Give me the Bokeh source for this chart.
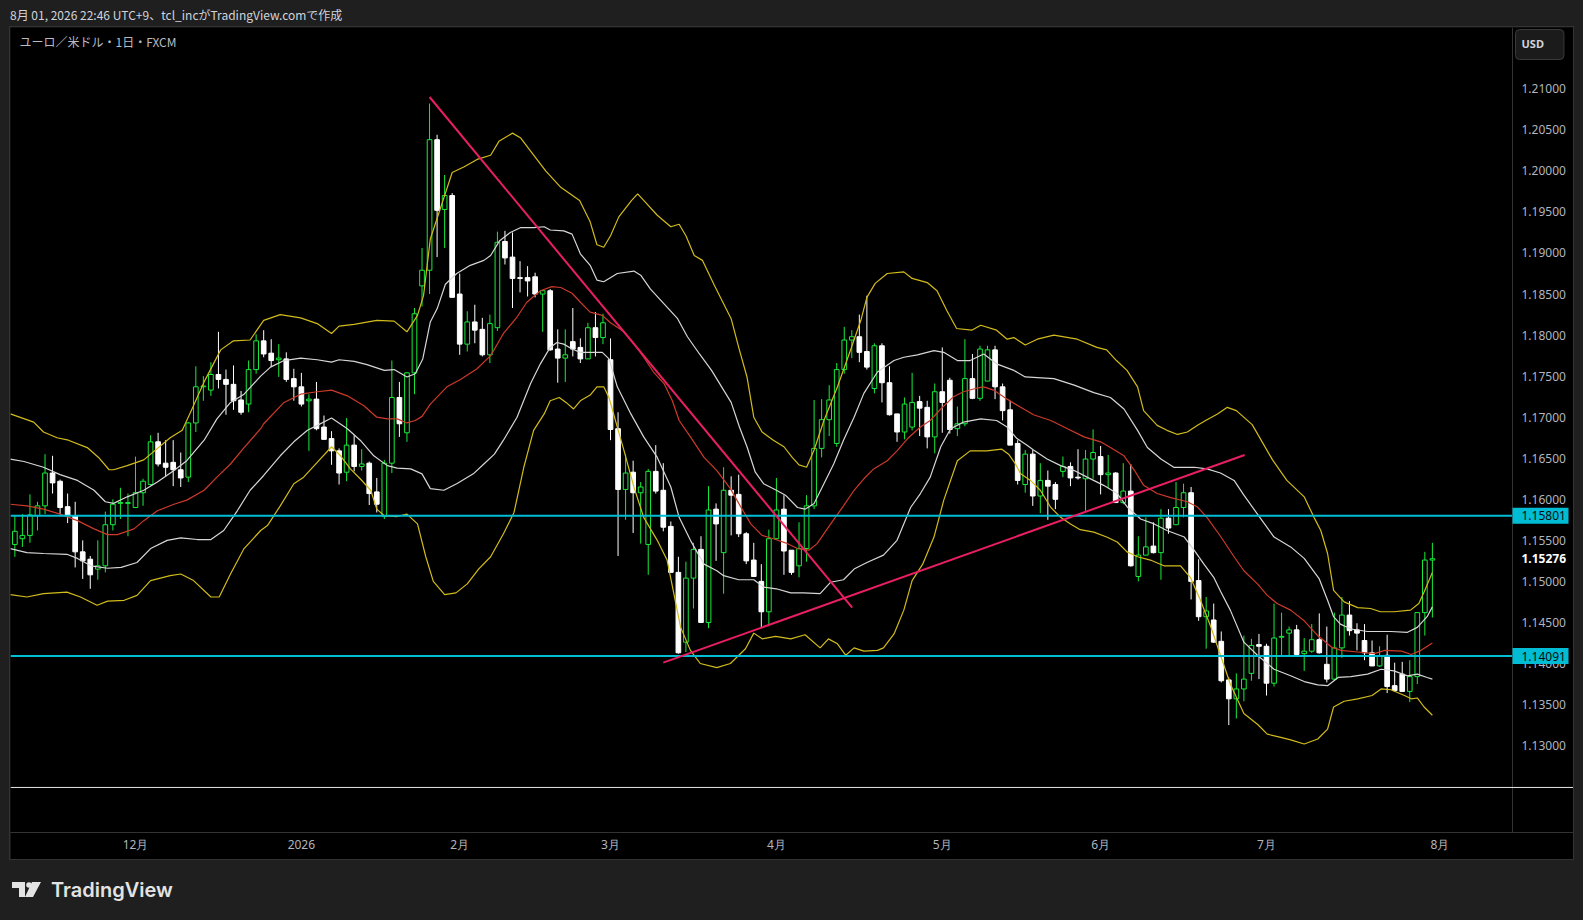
from bokeh.plotting import figure
from bokeh.models import (Range1d, FixedTicker, PrintfTickFormatter, Span, Label, Div, ColumnDataSource)
from bokeh.layouts import column
from bokeh.embed import file_html
from bokeh.resources import INLINE
from bokeh.core.properties import value

# ---------------- data (bar index 0 = 2025-12-01) ----------------
first_bar = -16
opens = [1.1545,1.1552,1.1556,1.1580,1.1592,1.1632,1.1622,1.1591,1.1580,1.1536,1.1527,1.1515,1.1519,1.1569,1.1595,1.1595,
 1.1590,1.1608,1.1618,1.1670,1.1644,1.1645,1.1636,1.1627,1.1693,1.1737,1.1733,1.1752,1.1746,1.1740,1.1721,1.1716,
 1.1758,1.1793,1.1778,1.1770,1.1771,1.1747,1.1737,1.1720,1.1722,1.1688,1.1674,1.1659,1.1633,1.1666,1.1640,1.1644,
 1.1609,1.1579,1.1644,1.1724,1.1681,1.1754,1.1860,1.1879,1.2038,1.1953,1.1970,1.1850,1.1789,1.1816,1.1807,1.1776,
 1.1809,1.1914,1.1895,1.1870,1.1870,1.1871,1.1850,1.1854,1.1783,1.1772,1.1792,1.1785,1.1771,1.1809,1.1797,1.1770,
 1.1686,1.1612,1.1633,1.1608,1.1545,1.1634,1.1611,1.1567,1.1511,1.1426,1.1504,1.1539,1.1450,1.1588,1.1535,1.1611,
 1.1606,1.1558,1.1526,1.1500,1.1463,1.1552,1.1588,1.1538,1.1519,1.1540,1.1592,1.1662,1.1697,1.1668,1.1758,1.1794,
 1.1798,1.1780,1.1735,1.1787,1.1742,1.1704,1.1682,1.1688,1.1719,1.1712,1.1676,1.1731,1.1745,1.1686,1.1692,1.1747,
 1.1723,1.1744,1.1782,1.1737,1.1709,1.1668,1.1618,1.1655,1.1604,1.1623,1.1618,1.1634,1.1640,1.1627,1.1625,1.1649,
 1.1652,1.1630,1.1632,1.1596,1.1610,1.1506,1.1532,1.1543,1.1535,1.1577,1.1569,1.1590,1.1608,1.1501,1.1457,1.1453,
 1.1427,1.1380,1.1357,1.1369,1.1388,1.1423,1.1421,1.1376,1.1432,1.1437,1.1441,1.1412,1.1415,1.1429,1.1399,1.1381,
 1.1419,1.1459,1.1441,1.1428,1.1413,1.1397,1.1410,1.1373,1.1387,1.1366,1.1384,1.1462,1.1526]
highs = [1.1580,1.1582,1.1606,1.1597,1.1655,1.1653,1.1624,1.1607,1.1597,1.1550,1.1531,1.1550,1.1585,1.1600,1.1614,1.1607,
 1.1652,1.1625,1.1678,1.1681,1.1672,1.1672,1.1657,1.1694,1.1762,1.1750,1.1767,1.1804,1.1758,1.1763,1.1732,1.1769,
 1.1801,1.1806,1.1795,1.1789,1.1779,1.1759,1.1754,1.1728,1.1743,1.1702,1.1683,1.1662,1.1699,1.1678,1.1661,1.1646,
 1.1626,1.1648,1.1769,1.1743,1.1755,1.1833,1.1906,1.2082,1.2044,1.1995,1.1973,1.1875,1.1829,1.1837,1.1821,1.1825,
 1.1926,1.1927,1.1925,1.1890,1.1884,1.1876,1.1855,1.1856,1.1807,1.1807,1.1833,1.1796,1.1815,1.1828,1.1826,1.1796,
 1.1706,1.1655,1.1647,1.1621,1.1637,1.1666,1.1644,1.1573,1.1530,1.1524,1.1547,1.1555,1.1616,1.1595,1.1639,1.1628,
 1.1630,1.1560,1.1547,1.1521,1.1563,1.1626,1.1605,1.1538,1.1572,1.1605,1.1721,1.1722,1.1739,1.1766,1.1810,1.1806,
 1.1825,1.1848,1.1790,1.1790,1.1762,1.1704,1.1724,1.1754,1.1726,1.1720,1.1741,1.1785,1.1748,1.1713,1.1795,1.1777,
 1.1787,1.1787,1.1787,1.1741,1.1720,1.1672,1.1660,1.1660,1.1644,1.1635,1.1621,1.1652,1.1645,1.1661,1.1660,1.1685,
 1.1665,1.1654,1.1633,1.1644,1.1643,1.1555,1.1578,1.1572,1.1588,1.1588,1.1621,1.1619,1.1615,1.1527,1.1481,1.1473,
 1.1439,1.1383,1.1388,1.1434,1.1430,1.1436,1.1424,1.1473,1.1462,1.1445,1.1447,1.1431,1.1448,1.1461,1.1445,1.1462,
 1.1481,1.1476,1.1449,1.1448,1.1428,1.1421,1.1435,1.1401,1.1402,1.1404,1.1462,1.1536,1.1547]
lows = [1.1530,1.1542,1.1547,1.1562,1.1582,1.1607,1.1582,1.1571,1.1517,1.1503,1.1491,1.1502,1.1511,1.1562,1.1576,1.1555,
 1.1590,1.1592,1.1617,1.1640,1.1628,1.1616,1.1615,1.1621,1.1682,1.1720,1.1726,1.1735,1.1703,1.1709,1.1703,1.1706,
 1.1753,1.1773,1.1761,1.1749,1.1743,1.1720,1.1713,1.1659,1.1684,1.1673,1.1642,1.1618,1.1622,1.1634,1.1635,1.1593,
 1.1584,1.1576,1.1632,1.1676,1.1670,1.1728,1.1835,1.1850,1.1895,1.1906,1.1846,1.1776,1.1780,1.1790,1.1774,1.1766,
 1.1805,1.1886,1.1833,1.1852,1.1847,1.1846,1.1804,1.1781,1.1742,1.1743,1.1774,1.1766,1.1771,1.1774,1.1789,1.1672,
 1.1531,1.1575,1.1559,1.1546,1.1508,1.1607,1.1561,1.1511,1.1412,1.1414,1.1467,1.1450,1.1443,1.1525,1.1485,1.1556,
 1.1554,1.1521,1.1506,1.1443,1.1447,1.1551,1.1508,1.1508,1.1505,1.1524,1.1588,1.1651,1.1677,1.1664,1.1753,1.1772,
 1.1767,1.1758,1.1729,1.1718,1.1702,1.1670,1.1673,1.1684,1.1677,1.1662,1.1656,1.1681,1.1680,1.1677,1.1689,1.1722,
 1.1720,1.1744,1.1722,1.1696,1.1666,1.1618,1.1608,1.1592,1.1583,1.1575,1.1588,1.1627,1.1616,1.1624,1.1586,1.1625,
 1.1606,1.1614,1.1596,1.1594,1.1518,1.1500,1.1532,1.1534,1.1502,1.1558,1.1569,1.1578,1.1478,1.1452,1.1418,1.1425,
 1.1377,1.1325,1.1333,1.1354,1.1379,1.1381,1.1361,1.1372,1.1408,1.1409,1.1408,1.1391,1.1413,1.1412,1.1377,1.1379,
 1.1407,1.1434,1.1416,1.1404,1.1397,1.1396,1.1364,1.1366,1.1366,1.1353,1.1375,1.1434,1.1456]
closes = [1.1561,1.1556,1.1581,1.1592,1.1632,1.1620,1.1590,1.1580,1.1536,1.1525,1.1508,1.1519,1.1569,1.1594,1.1596,1.1596,
 1.1608,1.1622,1.1670,1.1643,1.1639,1.1636,1.1626,1.1693,1.1737,1.1738,1.1752,1.1746,1.1740,1.1720,1.1706,1.1758,
 1.1793,1.1777,1.1769,1.1772,1.1746,1.1737,1.1716,1.1722,1.1686,1.1673,1.1659,1.1632,1.1666,1.1640,1.1643,1.1607,
 1.1594,1.1644,1.1724,1.1692,1.1754,1.1826,1.1879,1.2038,1.1952,1.1970,1.1846,1.1789,1.1816,1.1806,1.1776,1.1814,
 1.1913,1.1894,1.1869,1.1869,1.1866,1.1850,1.1854,1.1782,1.1772,1.1776,1.1783,1.1771,1.1809,1.1797,1.1815,1.1685,
 1.1612,1.1632,1.1608,1.1615,1.1634,1.1610,1.1566,1.1511,1.1413,1.1504,1.1539,1.1450,1.1587,1.1570,1.1611,1.1605,
 1.1558,1.1525,1.1506,1.1463,1.1552,1.1587,1.1537,1.1511,1.1540,1.1592,1.1662,1.1697,1.1721,1.1758,1.1794,1.1798,
 1.1779,1.1761,1.1787,1.1742,1.1703,1.1682,1.1716,1.1718,1.1711,1.1676,1.1731,1.1718,1.1685,1.1692,1.1747,1.1723,
 1.1783,1.1782,1.1737,1.1708,1.1666,1.1623,1.1655,1.1604,1.1623,1.1616,1.1600,1.1640,1.1626,1.1626,1.1649,1.1657,
 1.1630,1.1632,1.1596,1.1610,1.1519,1.1532,1.1542,1.1535,1.1577,1.1565,1.1590,1.1608,1.1500,1.1457,1.1464,1.1426,
 1.1379,1.1357,1.1369,1.1381,1.1422,1.1421,1.1376,1.1431,1.1433,1.1441,1.1411,1.1415,1.1429,1.1413,1.1381,1.1419,
 1.1459,1.1440,1.1437,1.1413,1.1397,1.1409,1.1372,1.1367,1.1366,1.1384,1.1462,1.1526,1.15276]

# Bollinger style bands (bar index, price)
upper2_x = [-16.6,-13.5,-12.2,-10.4,-8.9,-6.4,-4.9,-3.5,-2.9,-1.1,1.1,4.6,6.2,7.3,9.1,11.3,13.0,15.2,17.0,19.2,21.9,24.1,26.0,27.0,29.0,32.0,34.3,36.0,37.4,38.2,39.1,41.0,42.0,43.6,45.3,47.1,48.2,50.0,51.1,52.4,54.4,56.4,58.9,60.3,61.2,62.1,63.0,64.1,65.8,66.6,67.4,69.2,71.0,72.1,73.0,74.1,75.2,76.8,79.0,80.0,81.1,82.0,83.1,84.6,86.0,87.1,88.0,89.0,90.0,91.3,93.1,94.8,96.2,97.0,98.1,99.7,101.9,103.0,105.0,106.3,107.6,108.9,110.9,112.1,114.2,115.6,116.5,118.0,119.6,121.8,124.9,127.5,128.8,130.1,131.5,132.9,133.7,135.5,136.8,138.2,139.5,140.8,142.1,143.5,144.8,146.0,148.1,150.8,152.7,155.0,156.3,157.2,158.1,158.9,160.3,162.1,163.8,165.1,166.9,169.1,170.2,170.9,172.0]
upper2_y = [1.1704,1.1694,1.1682,1.1675,1.1672,1.1663,1.1651,1.1636,1.1636,1.1641,1.1648,1.1675,1.1684,1.1706,1.1743,1.1782,1.1793,1.1794,1.1818,1.1825,1.1821,1.1814,1.1802,1.1811,1.1813,1.1818,1.1817,1.1804,1.1824,1.1848,1.1917,1.1970,1.1998,1.2005,1.2014,1.2019,1.2036,1.2046,1.2040,1.2024,1.2000,1.1980,1.1964,1.1938,1.1910,1.1907,1.1921,1.1944,1.1964,1.1972,1.1964,1.1946,1.1932,1.1935,1.1921,1.1897,1.1891,1.1860,1.1820,1.1785,1.1749,1.1700,1.1682,1.1672,1.1664,1.1651,1.1642,1.1639,1.1660,1.1696,1.1737,1.1781,1.1818,1.1846,1.1863,1.1875,1.1877,1.1869,1.1864,1.1854,1.1830,1.1808,1.1806,1.1812,1.1806,1.1795,1.1797,1.1788,1.1795,1.1800,1.1795,1.1785,1.1782,1.1769,1.1757,1.1737,1.1708,1.1690,1.1684,1.1679,1.1682,1.1690,1.1697,1.1704,1.1712,1.1708,1.1691,1.1648,1.1623,1.1603,1.1578,1.1562,1.1534,1.1489,1.1475,1.1468,1.1467,1.1463,1.1463,1.1465,1.1473,1.1487,1.1511]

upper1_x = [-16.6,-14.8,-12.2,-10.0,-7.7,-5.5,-4.0,-2.9,-1.1,1.1,2.9,5.1,6.8,9.1,10.8,12.6,14.4,16.6,17.9,19.7,21.9,24.1,26.0,27.0,29.0,30.7,33.0,34.3,36.0,37.1,38.1,39.1,40.0,41.1,42.6,44.4,46.2,47.1,48.3,49.7,51.1,52.8,54.2,55.0,56.8,57.9,59.0,60.3,61.2,62.1,63.9,66.1,67.0,68.3,70.1,71.9,73.2,74.8,76.4,78.0,79.0,80.1,81.1,82.2,83.3,85.0,86.2,87.8,88.8,90.0,91.3,92.6,93.9,95.3,96.6,98.4,100.6,101.9,103.7,105.9,107.2,109.0,110.7,112.5,114.2,116.5,118.0,121.8,124.5,127.1,129.3,131.1,132.9,134.2,136.0,137.7,140.4,142.1,143.9,145.7,147.0,148.8,151.0,153.2,155.0,157.0,158.1,158.9,159.8,161.2,163.4,166.5,168.7,170.0,171.3,172.0]
upper1_y = [1.1649,1.1646,1.1639,1.1630,1.1623,1.1611,1.1597,1.1595,1.1603,1.1611,1.1621,1.1635,1.1647,1.1672,1.1698,1.1718,1.1728,1.1750,1.1761,1.1769,1.1772,1.1770,1.1767,1.1770,1.1768,1.1764,1.1757,1.1758,1.1749,1.1753,1.1771,1.1816,1.1832,1.1862,1.1875,1.1885,1.1891,1.1897,1.1915,1.1925,1.1931,1.1931,1.1932,1.1928,1.1927,1.1923,1.1899,1.1885,1.1867,1.1865,1.1875,1.1878,1.1873,1.1856,1.1838,1.1820,1.1798,1.1777,1.1757,1.1733,1.1718,1.1688,1.1664,1.1633,1.1619,1.1611,1.1605,1.1590,1.1588,1.1595,1.1619,1.1643,1.1672,1.1700,1.1729,1.1755,1.1769,1.1773,1.1776,1.1781,1.1779,1.1769,1.1769,1.1777,1.1765,1.1757,1.1749,1.1747,1.1739,1.1730,1.1724,1.1710,1.1684,1.1663,1.1649,1.1639,1.1639,1.1637,1.1632,1.1623,1.1605,1.1582,1.1554,1.1542,1.1528,1.1503,1.1477,1.1457,1.1448,1.1442,1.1439,1.1439,1.1438,1.1444,1.1457,1.1469]

middle_x = [-16.6,-14.4,-12.2,-10.0,-7.7,-5.5,-3.7,-2.4,-0.2,1.1,2.9,5.1,6.8,9.1,10.8,12.6,14.4,16.6,17.0,19.7,21.9,24.1,26.0,28.1,30.3,32.0,33.4,34.7,36.0,37.1,38.0,39.1,41.3,43.1,45.3,47.1,48.8,50.6,51.9,53.7,55.2,56.4,57.9,59.0,60.3,61.9,63.0,64.8,66.1,67.4,68.7,70.1,71.2,72.1,73.6,75.4,77.1,78.9,80.2,81.6,83.1,84.6,86.2,87.8,89.3,90.4,92.2,93.9,95.3,96.6,97.9,99.7,101.0,102.4,104.1,105.4,106.8,108.5,109.8,111.4,112.5,113.8,115.6,117.4,119.1,121.4,123.6,125.8,128.0,129.3,131.1,132.5,133.7,135.5,137.3,139.5,140.8,142.1,143.9,145.7,147.0,148.8,150.1,151.4,153.2,155.0,156.8,158.6,159.9,162.1,164.3,165.7,167.9,169.2,170.5,172.0]
middle_y = [1.1594,1.1592,1.1588,1.1582,1.1574,1.1564,1.1557,1.1557,1.1564,1.1574,1.1586,1.1594,1.1599,1.1611,1.1627,1.1643,1.1663,1.1686,1.1692,1.1718,1.1728,1.1731,1.1733,1.1726,1.1714,1.1700,1.1698,1.1698,1.1693,1.1696,1.1701,1.1716,1.1737,1.1746,1.1759,1.1775,1.1802,1.1822,1.1840,1.1854,1.1859,1.1858,1.1851,1.1840,1.1828,1.1824,1.1815,1.1804,1.1790,1.1773,1.1755,1.1741,1.1720,1.1696,1.1676,1.1651,1.1635,1.1613,1.1592,1.1570,1.1556,1.1552,1.1547,1.1540,1.1538,1.1546,1.1570,1.1592,1.1611,1.1625,1.1637,1.1647,1.1659,1.1674,1.1688,1.1696,1.1710,1.1725,1.1731,1.1735,1.1737,1.1733,1.1722,1.1712,1.1703,1.1696,1.1686,1.1676,1.1670,1.1663,1.1653,1.1635,1.1617,1.1607,1.1602,1.1597,1.1591,1.1578,1.1555,1.1530,1.1513,1.1497,1.1483,1.1473,1.1465,1.1452,1.1434,1.1420,1.1416,1.1414,1.1412,1.1416,1.1415,1.1411,1.1416,1.1425]

lower1_x = [-16.6,-14.4,-12.2,-9.1,-7.7,-5.9,-3.7,-1.9,0.2,2.0,4.2,6.0,8.2,10.0,11.7,13.5,15.2,17.0,19.2,21.0,22.8,24.1,26.0,28.1,29.8,31.6,33.4,34.7,36.5,38.0,39.1,40.9,42.6,44.8,46.2,47.6,48.8,50.6,52.4,53.7,55.0,55.9,56.8,57.9,59.0,60.3,61.9,62.8,63.9,65.7,67.4,69.2,71.0,72.1,73.6,75.4,77.1,78.0,80.0,82.0,83.3,85.0,86.9,88.6,90.8,92.2,93.9,95.3,97.0,99.2,101.0,102.8,104.1,105.4,106.8,108.1,109.8,112.1,114.2,115.6,116.9,118.2,119.1,120.9,122.7,124.5,126.2,128.4,130.2,131.5,133.3,135.1,136.8,139.1,140.4,141.7,143.0,143.9,145.2,147.0,148.8,151.0,153.2,155.0,156.8,158.1,159.5,161.2,163.4,165.2,166.9,168.7,170.0,171.3,172.0]
lower1_y = [1.1540,1.1535,1.1534,1.1533,1.1528,1.1519,1.1516,1.1517,1.1523,1.1540,1.1550,1.1553,1.1551,1.1551,1.1562,1.1586,1.1611,1.1629,1.1653,1.1670,1.1684,1.1690,1.1699,1.1686,1.1672,1.1653,1.1641,1.1638,1.1637,1.1631,1.1613,1.1611,1.1619,1.1631,1.1643,1.1655,1.1672,1.1700,1.1741,1.1765,1.1785,1.1791,1.1789,1.1783,1.1779,1.1779,1.1779,1.1771,1.1737,1.1704,1.1676,1.1651,1.1615,1.1578,1.1550,1.1521,1.1513,1.1507,1.1502,1.1502,1.1493,1.1491,1.1486,1.1486,1.1485,1.1499,1.1502,1.1515,1.1523,1.1532,1.1550,1.1590,1.1607,1.1627,1.1664,1.1686,1.1694,1.1698,1.1696,1.1688,1.1674,1.1666,1.1660,1.1649,1.1641,1.1635,1.1627,1.1617,1.1607,1.1591,1.1576,1.1570,1.1562,1.1554,1.1538,1.1521,1.1505,1.1488,1.1465,1.1426,1.1410,1.1393,1.1385,1.1378,1.1374,1.1373,1.1383,1.1384,1.1387,1.1393,1.1391,1.1385,1.1387,1.1383,1.1381]

lower2_x = [-16.6,-14.4,-12.2,-9.1,-7.3,-5.1,-3.7,-1.5,0.2,2.0,4.6,6.0,7.7,10.0,11.1,12.6,14.4,16.6,17.5,19.2,21.0,22.3,24.1,26.0,27.2,28.5,29.8,31.2,32.0,33.0,34.7,36.0,37.4,38.5,39.5,41.0,42.5,44.0,45.5,47.1,48.8,50.2,51.5,52.8,54.2,55.0,56.2,57.1,58.1,59.0,60.3,61.2,62.1,62.8,63.9,64.8,66.1,67.4,69.2,70.5,71.4,72.3,73.6,74.9,77.1,78.9,80.9,82.0,83.1,84.9,86.9,88.8,90.8,91.9,93.1,94.2,95.3,96.6,98.4,99.2,100.6,101.9,103.0,104.4,105.9,107.2,109.0,110.7,112.9,114.9,115.8,116.7,117.4,118.7,120.0,121.4,122.7,124.0,125.3,127.1,128.8,130.2,131.5,132.9,134.6,136.4,138.6,139.9,141.2,142.6,143.9,145.2,147.0,148.8,150.1,151.9,153.2,155.0,156.8,158.1,158.9,160.3,162.1,164.0,165.2,166.5,168.3,169.2,170.0,170.9,172.0]
lower2_y = [1.1484,1.1481,1.1485,1.1487,1.1481,1.1471,1.1476,1.1477,1.1483,1.1501,1.1507,1.1509,1.1501,1.1481,1.1481,1.1509,1.1540,1.1562,1.1568,1.1592,1.1619,1.1627,1.1645,1.1664,1.1653,1.1637,1.1625,1.1611,1.1588,1.1580,1.1579,1.1582,1.1570,1.1530,1.1500,1.1484,1.1486,1.1497,1.1515,1.1530,1.1558,1.1584,1.1639,1.1684,1.1704,1.1720,1.1724,1.1718,1.1710,1.1720,1.1727,1.1737,1.1737,1.1724,1.1688,1.1659,1.1615,1.1578,1.1550,1.1526,1.1485,1.1444,1.1416,1.1400,1.1395,1.1400,1.1418,1.1437,1.1430,1.1433,1.1430,1.1435,1.1419,1.1430,1.1424,1.1410,1.1419,1.1415,1.1416,1.1419,1.1436,1.1465,1.1501,1.1521,1.1554,1.1599,1.1647,1.1659,1.1659,1.1661,1.1655,1.1643,1.1631,1.1623,1.1611,1.1590,1.1578,1.1570,1.1563,1.1560,1.1554,1.1548,1.1536,1.1530,1.1526,1.1519,1.1519,1.1505,1.1478,1.1445,1.1410,1.1375,1.1339,1.1326,1.1314,1.1310,1.1307,1.1302,1.1308,1.1320,1.1347,1.1354,1.1357,1.1361,1.1369,1.1368,1.1361,1.1357,1.1358,1.1347,1.1337]

# drawn trend lines and horizontal levels
trend_down_x = [39.0, 95.05]
trend_down_y = [1.2090, 1.1468]
trend_up_x = [70.0, 147.1]
trend_up_y = [1.1401, 1.1654]
levels = [1.15801, 1.14091]

month_ticks = [0, 22, 43, 63, 85, 107, 128, 150, 173]
month_labels = ["12月", "2026", "2月", "3月", "4月", "5月", "6月", "7月", "8月"]
price_ticks = [1.13, 1.135, 1.14, 1.145, 1.15, 1.155, 1.16, 1.165, 1.17, 1.175,
               1.18, 1.185, 1.19, 1.195, 1.20, 1.205, 1.21]

# ---------------- styling ----------------
UP = "#18ec3a"
DOWN = "#ffffff"
YEL = "#d2bb1c"
WHT = "#d6d6d6"
RED = "#cc3a2a"
CYAN = "#00bcd4"
PINK = "#e91e63"
AXIS_TXT = "#b2b5be"
PAGE_BG = "#1f1f1f"

X0, X_PANE_END, X1 = -16.578, 182.626, 190.716   # chart box left, price-scale edge, box right
X_LABEL_END = 190.05                              # right edge of price-scale label boxes
Y0, Y1 = 1.119415, 1.217466
PX = 1.0 / 8210                                   # one screen pixel in price units

x_idx = list(range(first_bar, first_bar + len(opens)))
up = [c >= o for o, c in zip(opens, closes)]
src = ColumnDataSource(dict(
    x=x_idx,
    high=highs, low=lows,
    top=[max(o, c) for o, c in zip(opens, closes)],
    bottom=[min(o, c) for o, c in zip(opens, closes)],
    line=[UP if u else DOWN for u in up],
    fill=["#000000" if u else DOWN for u in up],
))

p = figure(width=1563, height=832,
           x_range=Range1d(X0, X1), y_range=Range1d(Y0, Y1),
           output_backend="svg", toolbar_location=None, y_axis_location="right",
           background_fill_color="black", border_fill_color="black",
           outline_line_color=None,
           min_border_left=0, min_border_right=0, min_border_top=0, min_border_bottom=27)
p.margin = (0, 0, 0, 10)
p.styles = {"outline": "1px solid #333333"}
p.grid.visible = False

p.yaxis.ticker = FixedTicker(ticks=price_ticks)
p.yaxis.formatter = PrintfTickFormatter(format="%.5f")
p.yaxis.fixed_location = X_PANE_END
p.xaxis.ticker = FixedTicker(ticks=month_ticks)
p.xaxis.major_label_overrides = {t: l for t, l in zip(month_ticks, month_labels)}
for ax in (p.xaxis[0], p.yaxis[0]):
    ax.major_tick_out = 0
    ax.major_tick_in = 0
    ax.minor_tick_out = 0
    ax.minor_tick_in = 0
    ax.axis_line_color = "#333333"
    ax.major_label_text_color = AXIS_TXT
    ax.major_label_text_font = "Noto Sans"
    ax.major_label_text_font_size = "12px"
p.yaxis.major_label_standoff = 9
p.xaxis.major_label_standoff = 3

# candles
p.segment(x0="x", y0="low", x1="x", y1="high", line_color="line", line_width=1, source=src)
p.vbar(x="x", width=0.62, top="top", bottom="bottom", fill_color="fill",
       line_color="line", line_width=1, source=src)

# bands
p.line(upper2_x, upper2_y, line_color=YEL, line_width=1.2)
p.line(lower2_x, lower2_y, line_color=YEL, line_width=1.2)
p.line(upper1_x, upper1_y, line_color=WHT, line_width=1.2)
p.line(lower1_x, lower1_y, line_color=WHT, line_width=1.2)
p.line(middle_x, middle_y, line_color=RED, line_width=1.2)

# horizontal levels (stop at the price scale)
p.segment(x0=[X0] * len(levels), y0=levels, x1=[X_PANE_END] * len(levels), y1=levels,
          line_color=CYAN, line_width=2)

# trend lines
p.line(trend_down_x, trend_down_y, line_color=PINK, line_width=2)
p.line(trend_up_x, trend_up_y, line_color=PINK, line_width=2)

# pane separator
p.add_layout(Span(location=1.1249, dimension="width", line_color="#e6e6e6", line_width=1))

# price scale labels (drawn above the axis labels)
p.quad(left=[X_PANE_END] * len(levels), right=[X_LABEL_END] * len(levels),
       bottom=[lv - 8 * PX for lv in levels], top=[lv + 8 * PX for lv in levels],
       fill_color=CYAN, line_color=None, level="overlay")
p.text(x=[X_PANE_END] * len(levels), y=levels, text=[f"{lv:.5f}" for lv in levels],
       x_offset=9, text_color="#0b0b0b", text_font=value("Noto Sans"), text_font_size="12px",
       text_baseline="middle", text_align="left", level="overlay")
p.quad(left=[X_PANE_END + 0.15], right=[X_LABEL_END], bottom=[closes[-1] - 7 * PX],
       top=[closes[-1] + 7 * PX], fill_color="black", line_color=None, level="overlay")
p.text(x=[X_PANE_END], y=[closes[-1]], text=[f"{closes[-1]:.5f}"],
       x_offset=9, text_color="#ffffff", text_font=value("Noto Sans"), text_font_size="12px",
       text_font_style="bold", text_baseline="middle", text_align="left", level="overlay")

p.add_layout(Label(x=1505, y=788, x_units="screen", y_units="screen", text="USD",
                   text_color="#d1d4dc", text_font="Noto Sans", text_font_size="11px",
                   text_font_style="bold", text_baseline="middle", text_align="left",
                   background_fill_color="#1b1b1b", border_line_color="#3a3a3a",
                   border_radius=4, padding=(6, 20, 6, 9)))

# symbol title inside pane
p.add_layout(Label(x=9, y=791, x_units="screen", y_units="screen", text="ユーロ／米ドル・1日・FXCM",
                   text_color="#b8bbc4", text_font="Noto Sans CJK JP", text_font_size="12px",
                   text_baseline="middle", text_align="left"))

header = Div(text=('<div style="padding:8px 0 0 10px;line-height:14px;font-size:12px;'
                   'font-family:\'Noto Sans CJK JP\';color:#d1d4dc;white-space:nowrap;">'
                   '8月 01, 2026 22:46 UTC+9、tcl_incがTradingView.comで作成</div>'),
             width=1583, height=27, margin=0)

logo_svg = ('<div style="margin-top:22px;height:18px;display:flex;align-items:center;padding-left:12px;">'
            '<svg width="30" height="16" viewBox="0 0 30 16">'
            '<path d="M0 0H13V15H7V6H0Z" fill="#e3e3e3"/>'
            '<circle cx="17" cy="3" r="2.8" fill="#e3e3e3"/>'
            '<path d="M20 0H29L21 15H13Z" fill="#e3e3e3"/></svg>'
            '<span style="margin-left:9px;font-family:Inter;font-weight:600;font-size:20px;color:#e3e3e3;">'
            'TradingView</span></div>')
footer = Div(text=logo_svg, width=1583, height=61, margin=0)

layout = column(header, p, footer, spacing=0, styles={"background-color": PAGE_BG})

html = file_html(layout, INLINE).replace("<body>", '<body style="background-color:%s;">' % PAGE_BG)
open("out.html", "w").write(html)
